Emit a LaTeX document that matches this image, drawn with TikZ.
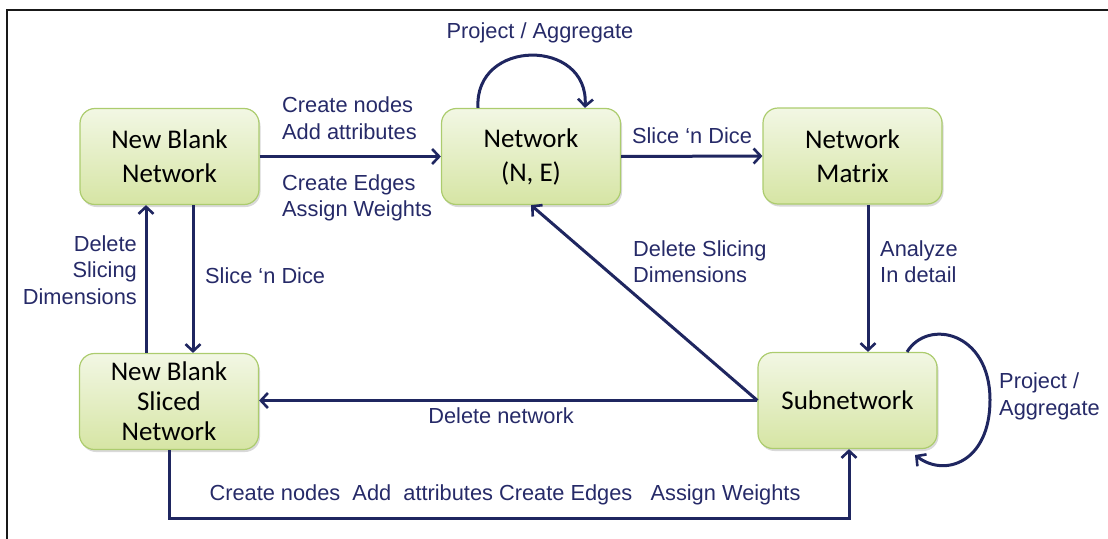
\documentclass[tikz,border=0pt]{standalone}
\usepackage{fontspec}
\setmainfont{Liberation Sans}
\newfontfamily\boxfont{Carlito}
\usetikzlibrary{arrows.meta,shadows}
\definecolor{linecol}{RGB}{31,38,96}
\definecolor{labcol}{RGB}{38,42,104}
\definecolor{boxtop}{RGB}{242,247,228}
\definecolor{boxbot}{RGB}{214,229,164}
\definecolor{boxline}{RGB}{172,204,110}
\tikzset{
  box/.style={rounded corners=15pt, draw=boxline, line width=1.2pt,
    top color=boxtop, bottom color=boxbot,
    drop shadow={shadow xshift=1.5pt, shadow yshift=-2.5pt, opacity=0.25, fill=black!60},
    minimum width=179pt, minimum height=96pt, align=center, inner sep=0pt,
    font=\boxfont\fontsize{27}{34}\selectfont, text=black},
  arr/.style={draw=linecol, line width=3pt,
    -{Straight Barb[length=7pt,width=15pt,line width=2.6pt]}},
  lab/.style={text=labcol, inner sep=0pt, font=\fontsize{21.8}{26.5}\selectfont}
}
\begin{document}
\begin{tikzpicture}[x=1pt,y=-1pt]
\useasboundingbox (0,0) rectangle (1108,538);
\draw[line width=2.5pt, black!90] (7,540) -- (7,10) -- (1110,10);

\node[box] (nbn) at (169.5,156.5) {New Blank\\Network};
\node[box] (net) at (531,156.5) {Network\\(N, E)};
\node[box] (mat) at (852.5,156) {Network\\Matrix};
\node[box, font=\boxfont\fontsize{27}{30}\selectfont] (sli) at (169,401.5) {New Blank\\Sliced\\Network};
\node[box] (sub) at (847.5,400.5) {Subnetwork};

% New Blank Network -> Network
\draw[arr] (nbn.east) -- (net.west);
\node[lab, anchor=west, align=left] (l1) at (282,118) {Create nodes\\Add attributes};
\node[lab, anchor=west, align=left] (l2) at (282,198) {Create Edges\\Assign Weights};

% Project / Aggregate loop on Network
\coordinate (pa1) at (478,0);
\coordinate (pa2) at (585,0);
\draw[arr] (net.north -| pa1) .. controls (474,38) and (589,38) .. (net.north -| pa2);
\node[lab] (l3) at (540,33) {Project / Aggregate};

% Network -> Matrix
\draw[arr] (net.east) -- (mat.west);
\node[lab] (l4) at (692,136) {Slice ‘n Dice};

% Matrix -> Subnetwork
\coordinate (mx) at (868,0);
\draw[arr] (mat.south -| mx) -- (sub.north -| mx);
\node[lab, anchor=west, align=left] (l5) at (880,261.5) {Analyze\\In detail};

% Subnetwork loop
\coordinate (sa) at (907,0);
\coordinate (sb) at (915,455);
\draw[arr] (sub.north -| sa) .. controls (928,318) and (990,332) .. (990,400)
  .. controls (990,462) and (945,478) .. (sb);
\node[lab, anchor=west, align=left] (l6) at (999,396.5) {Project /\\Aggregate};

% Subnetwork -> Sliced
\draw[arr] (sub.west) -- (sub.west -| sli.east);
\node[lab] (l7) at (501,416) {Delete network};

% Subnetwork -> Network (diagonal)
\draw[arr] (sub.west) -- (net.south);
\node[lab, anchor=west, align=left] (l8) at (633,261.5) {Delete Slicing\\Dimensions};

% NBN -> Sliced
\coordinate (dx) at (193,0);
\draw[arr] (nbn.south -| dx) -- (sli.north -| dx);
\node[lab, anchor=west] (l9) at (205,276) {Slice ‘n Dice};

% Sliced -> NBN
\coordinate (ux) at (146,0);
\draw[arr] (sli.north -| ux) -- (nbn.south -| ux);
\node[lab, anchor=east, align=right] (l10) at (137,270) {Delete\\Slicing\\Dimensions};

% Sliced -> Subnetwork (bottom route)
\coordinate (b1) at (169,518);
\coordinate (b2) at (849,518);
\draw[arr] (sli.south -| b1) -- (b1) -- (b2) -- (sub.south -| b2);
\node[lab] (l11) at (505,495) {Create nodes\ \ Add\ \ attributes Create Edges\ \ \ Assign Weights};
\end{tikzpicture}
\end{document}
